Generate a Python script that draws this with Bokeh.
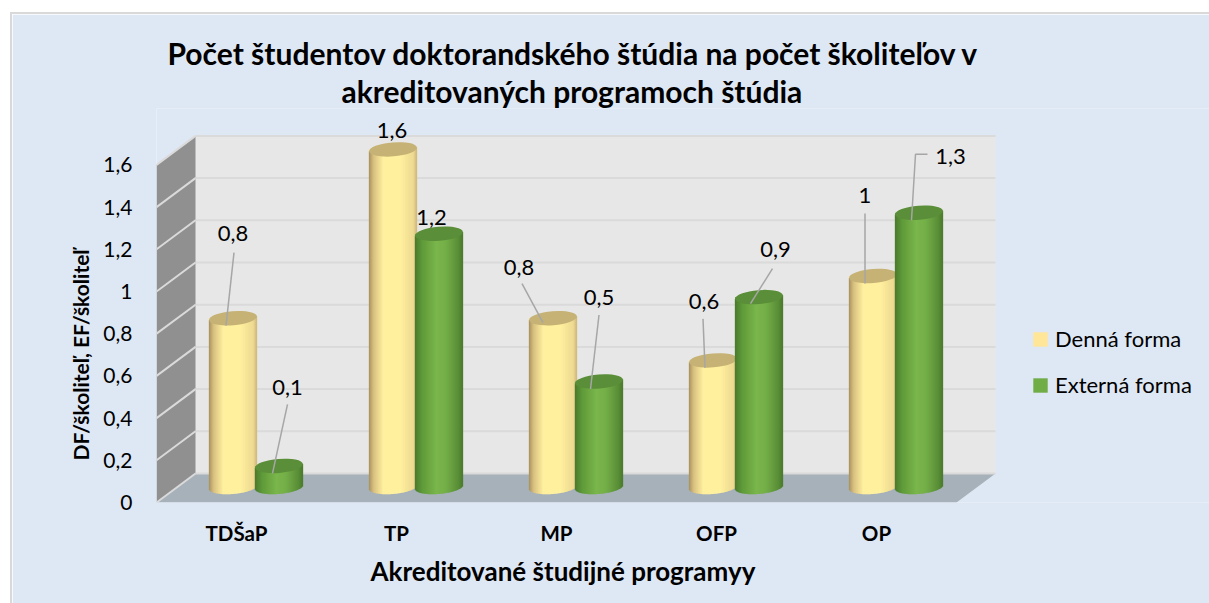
from bokeh.plotting import figure
from bokeh.embed import file_html
from bokeh.resources import INLINE
from bokeh.models import (Range1d, FixedTicker, Legend, LegendItem, Title)
from bokeh.core.properties import value
import numpy as np

# ---- data -------------------------------------------------------------
categories = ["TDŠaP", "TP", "MP", "OFP", "OP"]
denna = [0.8, 1.6, 0.8, 0.6, 1.0]
externa = [0.1, 1.2, 0.5, 0.9, 1.3]
series_names = ["Denná forma", "Externá forma"]
y_ticks = [0, 0.2, 0.4, 0.6, 0.8, 1.0, 1.2, 1.4, 1.6]
y_tick_labels = ["0", "0,2", "0,4", "0,6", "0,8", "1", "1,2", "1,4", "1,6"]
title_lines = ["Počet študentov doktorandského štúdia na počet školiteľov v",
               "akreditovaných programoch štúdia"]
y_title = "DF/školiteľ, EF/školiteľ"
x_title = "Akreditované študijné programyy"

# ---- layout (pixels) ---------------------------------------------------
W, H = 1199, 591
FONT = "Lato"
PX_X, PX_Y = 160.0, 211.0     # pixels per category / per value unit
DEPTH_X, DEPTH_Y = 39.0, 29.0 # back plane shift in pixels
BAR_DY = 15.5                 # bars stand mid-way into the depth
LABEL_DY = 14.0               # anchor height for label and leader offsets
LEFT, BOTTOM, TOP = 144, 103, 94
dx3 = DEPTH_X / PX_X
dy3 = DEPTH_Y / PX_Y
x0 = -0.5
x1 = 4.5
BAR_W = 48.0
GROUP = 23.0
TILT = 0.08
ELL_H = 14.0

# label offsets from the bar's top centre, in px: one per series per category
label_off = [[(0, -86), (-1, -20), (-34, -52), (-9, -60), (-8, -82)],
             [(8.5, -80), (-7.5, -18), (0, -86), (16.5, -49), (31.5, -58)]]
leader_off = [[[(1, -67), (-7, 6)], None, [(-31, -36), (-10, 3)], [(-10, -43), (-8, 6)], [(-8, -64), (-8, 6)]],
              [[(8.5, -63), (-6.5, 6)], None, [(0, -68), (-8.5, 6)], [(13.5, -30), (-8.5, 5)],
               [(8.5, -60), (-3.5, -60), (-7.5, 6)]]]

PANEL = "#DEE8F4"
ramps = [[(-1, "#A8905C"), (-0.8, "#D8C080"), (-0.4, "#FFF09E"), (0.3, "#FFF09E"), (0.85, "#EEDA92"), (1, "#CDB678")],
         [(-1, "#4A7A2C"), (-0.7, "#5F9A3A"), (-0.1, "#7AB64C"), (0.3, "#74AE48"), (0.8, "#5A8E38"), (1, "#4A7A2C")]]
top_colors = ["#C6B274", "#5A8E38"]
swatches = ["#FFE699", "#70AD47"]


def ramp_color(stops, u):
    xs = [s[0] for s in stops]
    rgb = [[int(s[1][i:i + 2], 16) for s in stops] for i in (1, 3, 5)]
    return "#%02X%02X%02X" % tuple(int(round(np.interp(u, xs, c))) for c in rgb)


p = figure(width=W, height=H, output_backend="svg", toolbar_location=None,
           x_range=Range1d(x0, x0 + (W - LEFT) / PX_X),
           y_range=Range1d(0, (H - BOTTOM - TOP) / PX_Y),
           min_border_left=LEFT, min_border_right=0, min_border_top=TOP, min_border_bottom=BOTTOM,
           background_fill_color=PANEL, border_fill_color=PANEL, outline_line_color=None,
           margin=(12, 0, 0, 10),
           styles={"border-left": "2px solid #D9D9D9", "border-top": "2px solid #D9D9D9", "box-sizing": "border-box"})
p.grid.visible = False

# walls and floor
p.patch([x0 + dx3, x1 + dx3, x1 + dx3, x0 + dx3], [dy3, dy3, 1.6 + dy3, 1.6 + dy3], color="#E7E7E7", line_width=0)
p.patch([x0, x0 + dx3, x0 + dx3, x0], [0, dy3, 1.6 + dy3, 1.6], color="#909090", line_width=0)
p.patch([x0, x1, x1 + dx3, x0 + dx3], [0, 0, dy3, dy3], color="#A6B1BA", line_width=0)
t = np.array(y_ticks, dtype=float)
p.segment(x0 + dx3, t + dy3, x1 + dx3, t + dy3, line_color="#DADADA", line_width=2)
p.segment(x0, t, x0 + dx3, t + dy3, line_color="#DADADA", line_width=2)

# cylinders
strips = np.linspace(-1, 1, 48, endpoint=False) + 1.0 / 48
all_vals = [denna, externa]
legend_items = []
for s, vals in enumerate(all_vals):
    vals = np.array(vals, dtype=float)
    xc = np.arange(len(vals)) + (DEPTH_X / 2 + (2 * s - 1) * GROUP) / PX_X
    base = p.vbar(xc, width=BAR_W / PX_X, bottom=BAR_DY / PX_Y, top=vals + BAR_DY / PX_Y,
                  color=swatches[s], line_width=0)
    legend_items.append(LegendItem(label=series_names[s], renderers=[base]))
    xs, bots, tops, cols = [], [], [], []
    for c, v in zip(xc, vals):
        for u in strips:
            tilt = TILT * u * BAR_W / 2 / PX_Y
            xs.append(c + u * BAR_W / 2 / PX_X)
            bots.append(BAR_DY / PX_Y + tilt - ELL_H / 2 * np.sqrt(1 - u * u) / PX_Y)
            tops.append(v + BAR_DY / PX_Y + tilt)
            cols.append(ramp_color(ramps[s], u))
    p.vbar(xs, width=1.3 / PX_X, bottom=bots, top=tops, fill_color=cols, line_color=None)
    p.ellipse(xc, vals + BAR_DY / PX_Y, width=BAR_W, height=ELL_H, width_units="screen", height_units="screen",
              angle=TILT, fill_color=top_colors[s], line_color=None)

# leader lines and data labels
lead_x, lead_y, lab_x, lab_y, lab_t = [], [], [], [], []
for s, vals in enumerate(all_vals):
    for i, v in enumerate(vals):
        c = i + (DEPTH_X / 2 + (2 * s - 1) * GROUP) / PX_X
        yt = v + LABEL_DY / PX_Y
        lo = label_off[s][i]
        lab_x.append(c + lo[0] / PX_X)
        lab_y.append(yt - lo[1] / PX_Y)
        lab_t.append(("%g" % v).replace(".", ","))
        if leader_off[s][i]:
            lead_x.append([c + q[0] / PX_X for q in leader_off[s][i]])
            lead_y.append([yt - q[1] / PX_Y for q in leader_off[s][i]])
p.multi_line(lead_x, lead_y, line_color="#A6A6A6", line_width=1.5)
p.text(lab_x, lab_y, text=lab_t, text_font=value(FONT), text_font_size="22px", text_color="#000000",
       text_align="center", text_baseline="middle")

# axes
p.yaxis.ticker = FixedTicker(ticks=y_ticks)
p.yaxis.major_label_overrides = dict(zip(y_ticks, y_tick_labels))
p.yaxis.bounds = (0, 1.6)
p.yaxis.axis_line_color = None
p.yaxis.major_tick_line_color = None
p.yaxis.minor_tick_line_color = None
p.yaxis.major_label_standoff = 18
p.yaxis.major_label_text_font = FONT
p.yaxis.major_label_text_font_size = "21px"
p.yaxis.major_label_text_color = "#000000"

p.xaxis.ticker = FixedTicker(ticks=list(range(len(categories))))
p.xaxis.major_label_overrides = dict(enumerate(categories))
p.xaxis.axis_line_color = None
p.xaxis.major_tick_line_color = None
p.xaxis.minor_tick_line_color = None
p.xaxis.major_label_standoff = 12
p.xaxis.major_label_text_font = FONT
p.xaxis.major_label_text_font_style = "bold"
p.xaxis.major_label_text_font_size = "20.5px"
p.xaxis.major_label_text_color = "#000000"

# titles
def add_title(text, place, offset, size, standoff):
    p.add_layout(Title(text=text, align="left", offset=offset, standoff=standoff, text_font=FONT,
                       text_font_style="bold", text_font_size=size, text_color="#000000"), place)

add_title(title_lines[1], "above", 185, "30px", 0)
add_title(title_lines[0], "above", 11, "30px", 0)
add_title(y_title, "left", 42, "21px", 16)
add_title(x_title, "below", 214, "26px", 10)

# legend
leg = Legend(items=legend_items, location=(875, 104), background_fill_alpha=0, border_line_color=None,
             glyph_width=18, glyph_height=18, label_text_font=FONT, label_text_font_size="22px",
             label_text_color="#000000", spacing=19, label_standoff=6)
p.add_layout(leg, "center")

open("out.html", "w").write(file_html(p, INLINE))
